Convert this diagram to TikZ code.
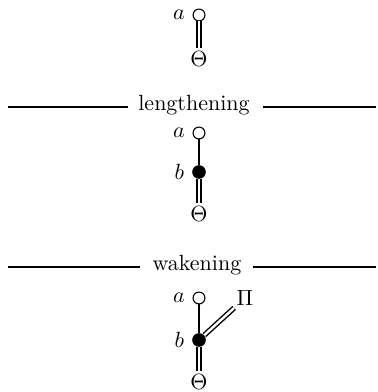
\documentclass[tikz,border=0pt]{standalone}
\usepackage{amssymb,amsmath}
\usetikzlibrary{positioning}

\begin{document}
\begin{tikzpicture}[x=0.4545pt,y=-0.4545pt,
  hollow/.style={circle,draw,line width=0.5pt,inner sep=0pt,minimum size=5.4pt,label distance=-1.2pt},
  filled/.style={circle,fill,inner sep=0pt,minimum size=6.2pt,label distance=-1.2pt},
  bottom/.style={inner sep=1.2pt},
  dbl/.style={draw,line width=0.65pt,double,double distance=1.1pt},
  sgl/.style={draw,line width=0.7pt},
  rule/.style={line width=0.9pt}]
  \useasboundingbox (0,0) rectangle (377,392);

  % premise
  \node[hollow,label=left:$a$] (a1) at (199,15) {};
  \node[bottom] (t1) at (199,59) {$\Theta$};
  \path (a1) edge[dbl] (t1);

  % first rule
  \node[anchor=base] (len) at (194,110) {lengthening};
  \coordinate (l1a) at (8,107);
  \coordinate (l1b) at (128,107);
  \coordinate (l1c) at (263,107);
  \coordinate (l1d) at (376,107);
  \draw[rule] (l1a) -- (l1b) (l1c) -- (l1d);

  % after lengthening
  \node[hollow,label=left:$a$] (a2) at (199,133) {};
  \node[filled,label=left:$b$] (b2) at (199,172) {};
  \node[bottom] (t2) at (199,214) {$\Theta$};
  \path (a2) edge[sgl] (b2)
        (b2) edge[dbl] (t2);

  % second rule
  \node[anchor=base] (wak) at (197,270) {wakening};
  \coordinate (l2a) at (8,267);
  \coordinate (l2b) at (140,267);
  \coordinate (l2c) at (253,267);
  \coordinate (l2d) at (376,267);
  \draw[rule] (l2a) -- (l2b) (l2c) -- (l2d);

  % after wakening
  \node[hollow,label=left:$a$] (a3) at (199,298) {};
  \node[filled,label=left:$b$] (b3) at (199,340) {};
  \node[bottom] (t3) at (199,382) {$\Theta$};
  \node[inner sep=1pt] (pi) at (245,298) {$\Pi$};
  \path (a3) edge[sgl] (b3)
        (b3) edge[dbl] (t3)
        (b3) edge[dbl] (pi);
\end{tikzpicture}
\end{document}
